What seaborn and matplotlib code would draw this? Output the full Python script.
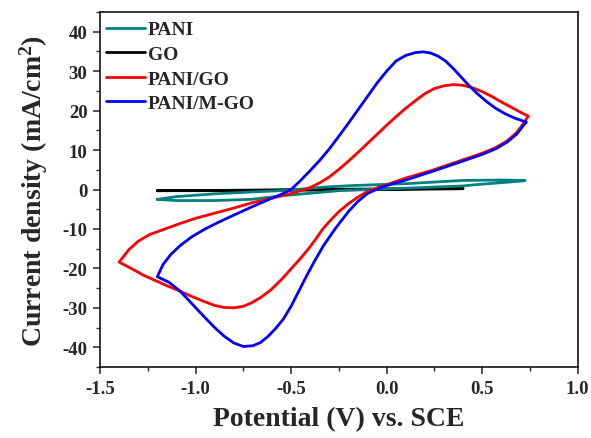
import numpy as np
import pandas as pd
import matplotlib
matplotlib.use("Agg")
import matplotlib.pyplot as plt
from matplotlib.ticker import MultipleLocator
import seaborn as sns

# ---- data (closed CV loops) ----
pani_x = [-1.20, -1.10, -0.90, -0.70, -0.53, -0.33, -0.18, 0.11, 0.40, 0.60, 0.725,
          0.72, 0.46, 0.40, 0.11, -0.24, -0.53, -0.71, -0.90, -1.10, -1.20]
pani_y = [-2.5, -1.8, -1.1, -0.6, -0.25, 0.6, 1.0, 1.5, 2.3, 2.4, 2.3,
          2.2, 1.2, 0.9, 0.35, -0.25, -1.5, -2.5, -2.8, -2.8, -2.5]

go_x = [-1.20, -0.80, -0.40, 0.00, 0.40, 0.40, 0.00, -0.40, -0.80, -1.20]
go_y = [-0.30, -0.20, 0.00, 0.15, 0.30, 0.20, 0.00, -0.15, -0.30, -0.30]

pgo_x = [0.74, 0.70, 0.65, 0.60, 0.55, 0.50, 0.45, 0.40, 0.35, 0.30, 0.25, 0.20,
         0.15, 0.10, 0.05, 0.00, -0.05, -0.10, -0.15, -0.20, -0.25, -0.30, -0.35,
         -0.40, -0.45, -0.50, -0.60, -0.70, -0.80, -0.90, -1.00, -1.08, -1.16,
         -1.24, -1.30, -1.35, -1.40,
         -1.33, -1.27, -1.20, -1.15, -1.08, -1.03, -0.96, -0.90, -0.85, -0.80,
         -0.75, -0.71, -0.66, -0.605, -0.55, -0.50, -0.45, -0.41, -0.37, -0.334,
         -0.29, -0.25, -0.20, -0.15, -0.10, -0.05, 0.01, 0.10, 0.24, 0.41, 0.50,
         0.57, 0.63, 0.68, 0.72, 0.74]
pgo_y = [18.6, 19.6, 20.9, 22.2, 23.6, 24.8, 25.8, 26.4, 26.6, 26.3, 25.6, 24.3,
         22.5, 20.6, 18.5, 16.3, 14.0, 11.7, 9.4, 7.2, 5.1, 3.2, 1.7,
         0.5, -0.3, -1.0, -2.2, -3.3, -4.7, -6.0, -7.3, -8.6, -10.0,
         -11.4, -13.1, -15.3, -18.4,
         -20.2, -21.8, -23.3, -24.4, -25.8, -26.9, -28.3, -29.4, -29.9, -30.0,
         -29.6, -28.8, -27.4, -25.4, -22.8, -20.1, -17.4, -15.1, -12.5, -10.0,
         -7.6, -5.6, -3.6, -1.9, -0.5, 0.4, 1.4, 2.9, 4.9, 7.7, 9.2,
         10.6, 12.3, 14.4, 17.0, 18.6]

pmgo_x = [0.73, 0.67, 0.62, 0.57, 0.52, 0.47, 0.43, 0.39, 0.35, 0.31, 0.27, 0.23,
          0.19, 0.15, 0.10, 0.05, 0.00, -0.05, -0.10, -0.15, -0.20, -0.25, -0.30,
          -0.35, -0.40, -0.45, -0.50, -0.55, -0.62, -0.71, -0.80, -0.88, -0.95,
          -1.02, -1.08, -1.13, -1.17, -1.20,
          -1.14, -1.08, -1.02, -0.96, -0.90, -0.85, -0.80, -0.75, -0.70, -0.66,
          -0.62, -0.58, -0.54, -0.50, -0.46, -0.42, -0.38, -0.33, -0.27, -0.20,
          -0.15, -0.10, -0.05, 0.00, 0.10, 0.24, 0.41, 0.50, 0.57, 0.63, 0.68, 0.73]
pmgo_y = [17.1, 18.1, 19.2, 20.6, 22.4, 24.5, 26.4, 28.5, 30.6, 32.5, 33.8, 34.6,
          34.9, 34.7, 34.0, 32.6, 30.0, 27.0, 23.6, 20.2, 16.8, 13.5, 10.3,
          7.4, 4.8, 2.3, 0.0, -1.2, -2.6, -4.5, -6.5, -8.3, -10.0,
          -12.0, -14.2, -16.5, -19.0, -22.1,
          -23.5, -25.8, -28.9, -32.0, -35.0, -37.2, -38.9, -39.8, -39.6, -38.8,
          -37.2, -35.2, -32.8, -29.6, -25.8, -22.0, -18.4, -14.2, -10.0, -5.6,
          -3.0, -1.0, 0.1, 1.0, 2.4, 4.6, 7.4, 8.9, 10.3, 12.0, 14.0, 17.1]

labels = ["PANI", "GO", "PANI/GO", "PANI/M-GO"]
colors = ["#008080", "#000000", "#ff0000", "#0000ff"]
x_ticks = [-1.5, -1.0, -0.5, 0.0, 0.5, 1.0]
y_ticks = [-40, -30, -20, -10, 0, 10, 20, 30, 40]

series = [(pani_x, pani_y), (go_x, go_y), (pgo_x, pgo_y), (pmgo_x, pmgo_y)]
frames = []
for lab, (xs, ys) in zip(labels, series):
    frames.append(pd.DataFrame({"Potential": xs, "Current": ys, "Sample": lab,
                                "idx": np.arange(len(xs))}))
df = pd.concat(frames, ignore_index=True)

sns.set_style("ticks")
plt.rcParams["font.family"] = ["Liberation Serif", "DejaVu Serif"]
plt.rcParams["font.weight"] = "bold"
plt.rcParams["axes.unicode_minus"] = False
plt.rcParams["mathtext.fontset"] = "custom"
plt.rcParams["mathtext.rm"] = "Liberation Serif:bold"
plt.rcParams["mathtext.bf"] = "Liberation Serif:bold"
plt.rcParams["mathtext.it"] = "Liberation Serif:bold:italic"

fig = plt.figure(figsize=(5.91, 4.39), dpi=100)
ax = fig.add_axes([0.1692, 0.1617, 0.8083, 0.8087])

palette = dict(zip(labels, colors))
zorders = {"PANI": 3, "GO": 2, "PANI/GO": 4, "PANI/M-GO": 5}
for lab in ["GO", "PANI", "PANI/GO", "PANI/M-GO"]:
    sub = df[df["Sample"] == lab]
    sns.lineplot(data=sub, x="Potential", y="Current", sort=False, estimator=None,
                 color=palette[lab], lw=2.0, ax=ax, zorder=zorders[lab], label=lab)
for ln in ax.get_lines():
    ln.set_solid_joinstyle("round")

ax.set_xlim(-1.5, 1.0)
ax.set_ylim(-45, 45)
ax.set_xticks(x_ticks)
ax.set_yticks(y_ticks)
ax.set_xticklabels([f"{v:.1f}" for v in x_ticks])
ax.set_yticklabels([str(v) for v in y_ticks])
ax.xaxis.set_minor_locator(MultipleLocator(0.25))
ax.yaxis.set_minor_locator(MultipleLocator(5))
ax.tick_params(which="major", direction="out", length=5, width=1.1, labelsize=13.5,
               pad=4, top=False, right=False)
ax.tick_params(which="minor", direction="out", length=2.6, width=1.0,
               top=False, right=False)
for lbl in ax.get_xticklabels() + ax.get_yticklabels():
    lbl.set_fontweight("bold")
for sp in ax.spines.values():
    sp.set_visible(True)
    sp.set_linewidth(1.1)
    sp.set_color("black")

ax.set_xlabel("Potential (V) vs. SCE", fontsize=20, fontweight="bold", labelpad=7)
ax.set_ylabel(r"Current density (mA/cm$^{2}$)", fontsize=20, fontweight="bold",
              labelpad=9)

handles, lbls = ax.get_legend_handles_labels()
order = [lbls.index(l) for l in labels]
leg = ax.legend([handles[i] for i in order], [lbls[i] for i in order],
                loc="upper left", bbox_to_anchor=(0.0, 0.9915), frameon=False,
                fontsize=14, handlelength=2.0, handletextpad=0.15,
                labelspacing=0.36, borderaxespad=0.1, borderpad=0.2)
for t in leg.get_texts():
    t.set_fontweight("bold")
for h in leg.get_lines():
    h.set_linewidth(2.0)

fig.savefig("out.png", dpi=100)
